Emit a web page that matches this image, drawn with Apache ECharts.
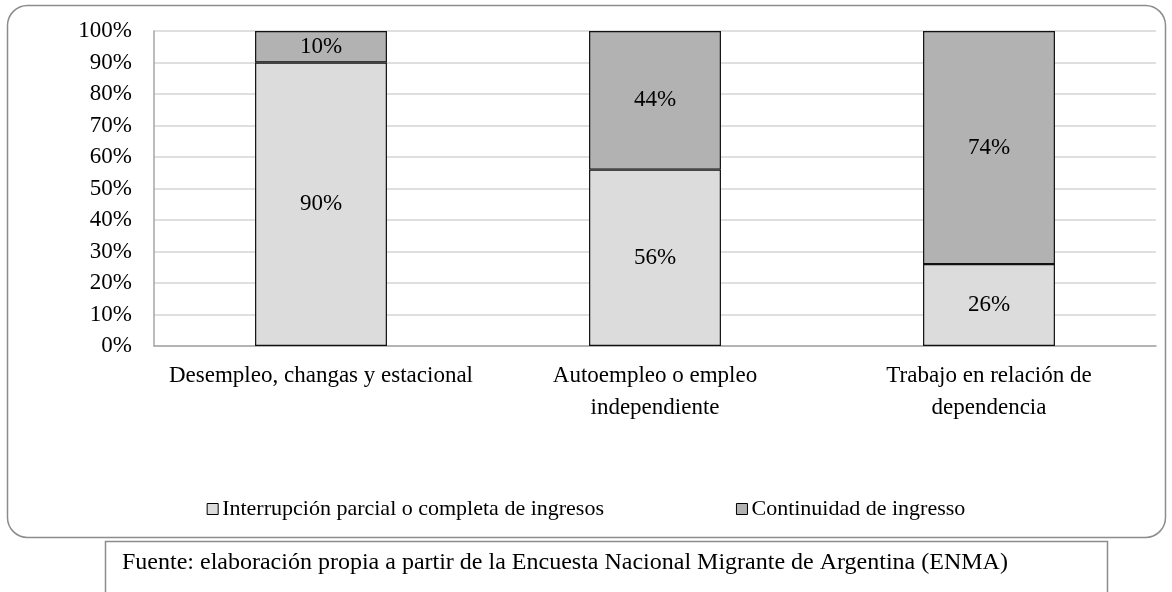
<!DOCTYPE html>
<html>
<head>
<meta charset="utf-8">
<script src="https://cdn.jsdelivr.net/npm/echarts@6/dist/echarts.min.js"></script>
<style>
html,body{margin:0;padding:0;background:#fff;}
#chart{width:1172px;height:592px;}
</style>
</head>
<body>
<div id="chart"></div>
<script>
var categories = ['Desempleo, changas y estacional', 'Autoempleo o empleo\nindependiente', 'Trabajo en relación de\ndependencia'];
var seriesNames = ['Interrupción parcial o completa de ingresos', 'Continuidad de ingresso'];
var interrupcion = [90, 56, 26];
var continuidad = [10, 44, 74];
var yTicks = [0, 10, 20, 30, 40, 50, 60, 70, 80, 90, 100];
var sourceText = 'Fuente: elaboración propia a partir de la Encuesta Nacional Migrante de Argentina (ENMA)';

var FONT = '"Liberation Serif", "Times New Roman", serif';
var chart = echarts.init(document.getElementById('chart'), null, {renderer: 'canvas'});
chart.setOption({
  backgroundColor: '#fff',
  animation: false,
  textStyle: {fontFamily: FONT, color: '#000'},
  grid: {left: 154, right: 16, top: 31, bottom: 246, containLabel: false},
  xAxis: {
    type: 'category',
    data: categories,
    axisLine: {show: true, lineStyle: {color: '#a6a6a6', width: 1.5}},
    axisTick: {show: false},
    axisLabel: {fontFamily: FONT, fontSize: 23, color: '#000', margin: 14, lineHeight: 32, interval: 0}
  },
  yAxis: {
    type: 'value',
    min: yTicks[0],
    max: yTicks[yTicks.length - 1],
    interval: yTicks[1] - yTicks[0],
    axisLine: {show: true, lineStyle: {color: '#a6a6a6', width: 1.5}},
    axisTick: {show: false},
    splitLine: {lineStyle: {color: '#d4d4d4', width: 1.5}},
    axisLabel: {fontFamily: FONT, fontSize: 23, color: '#000', margin: 22, formatter: '{value}%'}
  },
  legend: {
    left: 'center',
    top: 493,
    itemWidth: 11,
    itemHeight: 11,
    itemGap: 132,
    icon: 'rect',
    textStyle: {fontFamily: FONT, fontSize: 22, color: '#000', padding: [0, 0, 0, -1]},
    itemStyle: {borderColor: '#000', borderWidth: 1},
    data: seriesNames
  },
  series: [
    {
      name: seriesNames[0],
      type: 'bar',
      stack: 'total',
      barWidth: '39.5%',
      data: interrupcion,
      itemStyle: {color: '#dcdcdc', borderColor: '#111', borderWidth: 1.2},
      label: {show: true, position: 'inside', formatter: '{c}%', fontFamily: FONT, fontSize: 23, color: '#000'}
    },
    {
      name: seriesNames[1],
      type: 'bar',
      stack: 'total',
      barWidth: '39.5%',
      data: continuidad,
      itemStyle: {color: '#b2b2b2', borderColor: '#111', borderWidth: 1.2},
      label: {show: true, position: 'inside', formatter: '{c}%', fontFamily: FONT, fontSize: 23, color: '#000'}
    }
  ],
  graphic: [
    {
      type: 'rect',
      z: -1,
      silent: true,
      shape: {x: 7.5, y: 5.5, width: 1158, height: 532, r: 20},
      style: {fill: 'none', stroke: '#8c8c8c', lineWidth: 1.5}
    },
    {
      type: 'rect',
      silent: true,
      shape: {x: 105.5, y: 541.5, width: 1002, height: 70},
      style: {fill: '#fff', stroke: '#8c8c8c', lineWidth: 1.5}
    },
    {
      type: 'text',
      silent: true,
      x: 122,
      y: 563,
      style: {text: sourceText, fontFamily: FONT, fontSize: 24, fill: '#000', verticalAlign: 'middle', align: 'left'}
    }
  ]
});
</script>
</body>
</html>
